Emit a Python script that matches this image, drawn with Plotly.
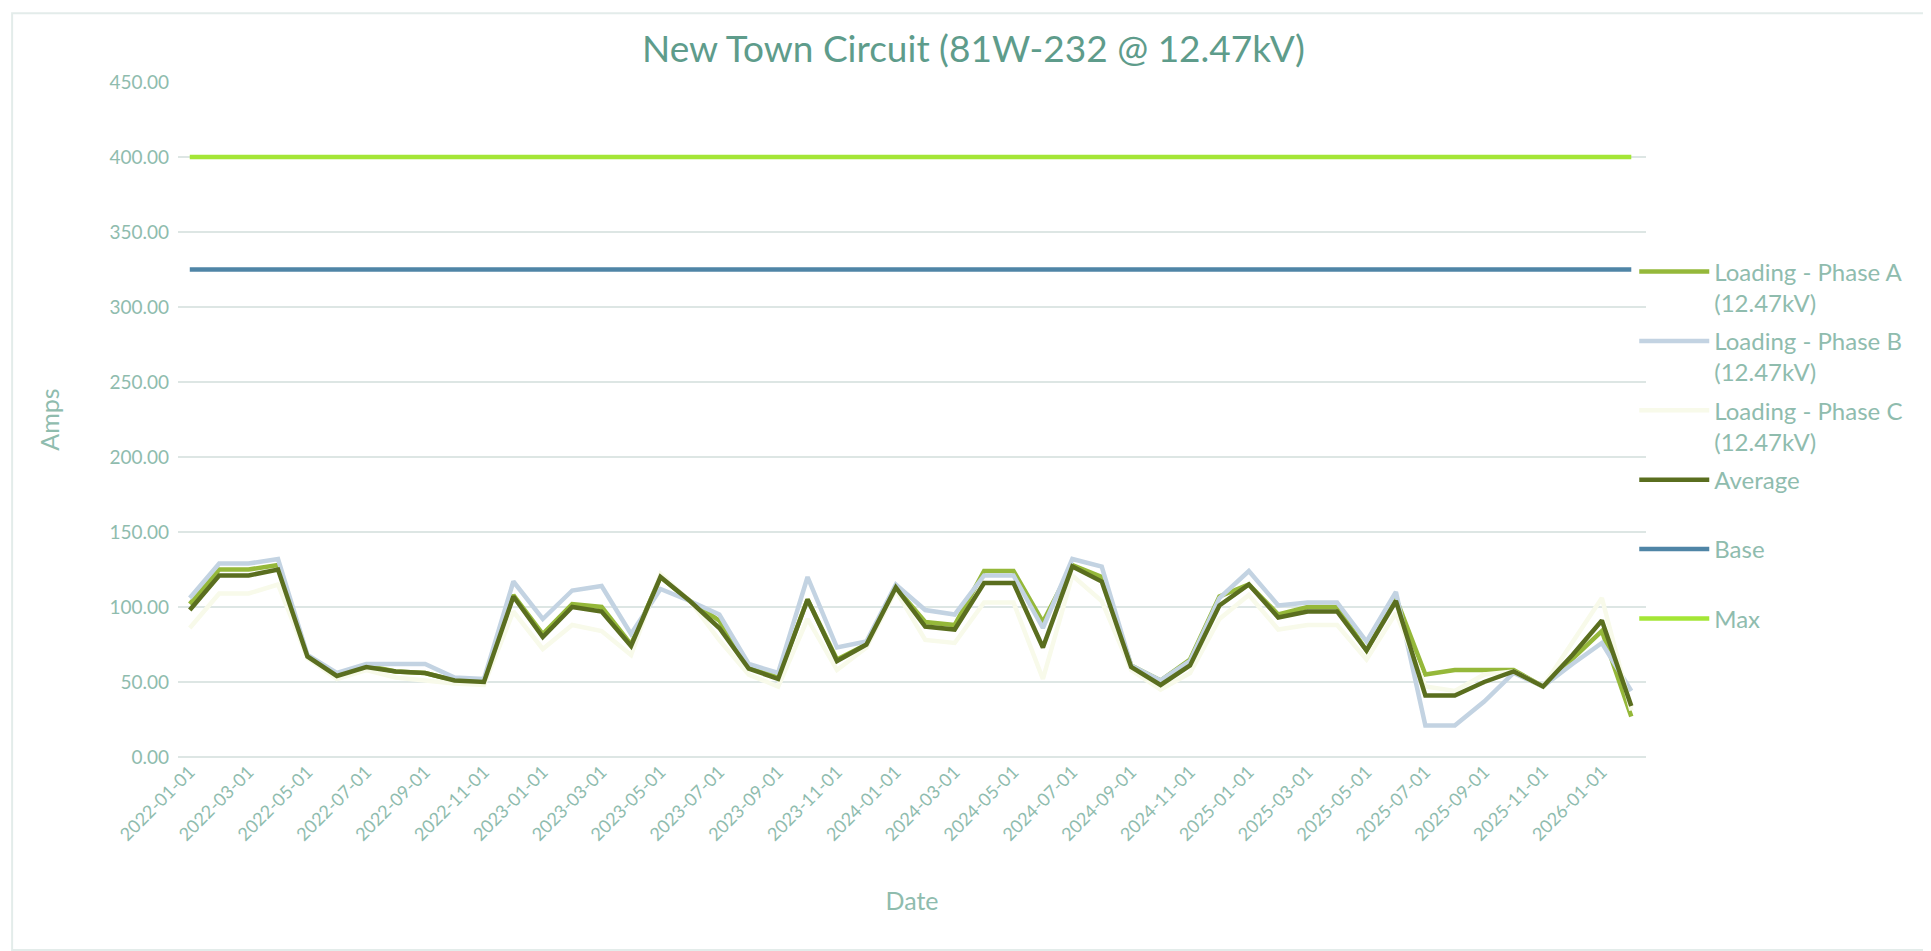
import pandas as pd
import plotly.graph_objects as go

# ---------- data ----------
dates = pd.date_range("2022-01-01", periods=50, freq="MS").strftime("%Y-%m-%d").tolist()

phase_a = [102, 125, 125, 128, 67, 55, 61, 57, 56, 51, 50, 108, 82, 102, 100, 75,
           120, 104, 91, 60, 53, 105, 65, 75, 113, 90, 88, 124, 124, 90, 128, 120,
           61, 51, 65, 107, 115, 95, 100, 100, 71, 106, 55, 58, 58, 58, 47, 66, 84, 27]
phase_b = [106, 129, 129, 132, 68, 56, 62, 62, 62, 53, 52, 117, 92, 111, 114, 82,
           112, 104, 95, 62, 56, 120, 73, 77, 115, 98, 95, 121, 121, 86, 132, 127,
           61, 51, 64, 106, 124, 101, 103, 103, 77, 110, 21, 21, 37, 56, 47, 62, 76, 44]
phase_c = [86, 109, 109, 115, 66, 52, 58, 53, 51, 49, 48, 97, 72, 88, 84, 68,
           122, 104, 78, 55, 47, 92, 58, 73, 111, 78, 76, 103, 103, 52, 121, 104,
           58, 45, 56, 92, 108, 85, 88, 88, 65, 96, 47, 44, 55, 57, 47, 76, 106, 31]
average = [98, 121, 121, 125, 67, 54, 60, 57, 56, 51, 50, 107, 80, 100, 97, 74,
           120, 104, 86, 59, 52, 105, 64, 75, 113, 87, 85, 116, 116, 73, 127, 117,
           60, 48, 61, 101, 115, 93, 97, 97, 71, 104, 41, 41, 50, 57, 47, 68, 91, 34]
base_amps = [325] * len(dates)
max_amps = [400] * len(dates)

series = [
    ("Loading - Phase A<br>(12.47kV)", phase_a, "#95b83a"),
    ("Loading - Phase B<br>(12.47kV)", phase_b, "#c3d3e2"),
    ("Loading - Phase C<br>(12.47kV)", phase_c, "#f8faea"),
    ("Average<br> ", average, "#5a6e1f"),
    ("Base<br> ", base_amps, "#4f85a6"),
    ("Max<br> ", max_amps, "#a4e636"),
]

TEXT = "#8fbcae"
FONT = "Lato"

fig = go.Figure()
for i, (name, vals, color) in enumerate(series):
    fig.add_trace(go.Scatter(
        x=dates, y=vals, name=name, mode="lines", legendgroup=f"g{i}",
        line=dict(color=color, width=4.5),
    ))

fig.update_layout(
    width=1931, height=951,
    paper_bgcolor="white", plot_bgcolor="white",
    margin=dict(l=170, r=293, t=74, b=202),
    font=dict(family=FONT, color=TEXT),
    title=dict(text="New Town Circuit (81W-232 @ 12.47kV)", x=0.5, xanchor="center",
               y=0.957, yanchor="middle", font=dict(size=37, color="#5e9c8b")),
    legend=dict(x=0.992, xanchor="left", y=0.752, yanchor="top", valign="top",
                itemwidth=70, tracegroupgap=4, font=dict(size=24, color=TEXT),
                bgcolor="rgba(0,0,0,0)"),
    showlegend=True,
)
fig.update_xaxes(
    type="category", tickvals=dates[::2], ticktext=dates[::2], tickangle=-45,
    range=[-0.4, len(dates) - 0.5], showgrid=False, showline=False, ticks="",
    tickfont=dict(size=18, color=TEXT),
    title=dict(text="Date", font=dict(size=25, color=TEXT), standoff=48),
)
fig.update_yaxes(
    range=[0, 450], dtick=50, tickformat=".2f", showgrid=True, gridcolor="#dde6e4",
    gridwidth=2, zeroline=True, zerolinecolor="#dde6e4", zerolinewidth=2, showline=False,
    tickfont=dict(size=19, color=TEXT), ticklabelstandoff=8,
    title=dict(text="Amps", font=dict(size=25, color=TEXT), standoff=42),
)
# light frame around the whole chart
fig.add_shape(type="rect", xref="paper", yref="paper",
              x0=-0.113, x1=1.193, y0=-0.286, y1=1.102,
              line=dict(color="#e3ecea", width=2), layer="below")

fig.write_html("out.html")
